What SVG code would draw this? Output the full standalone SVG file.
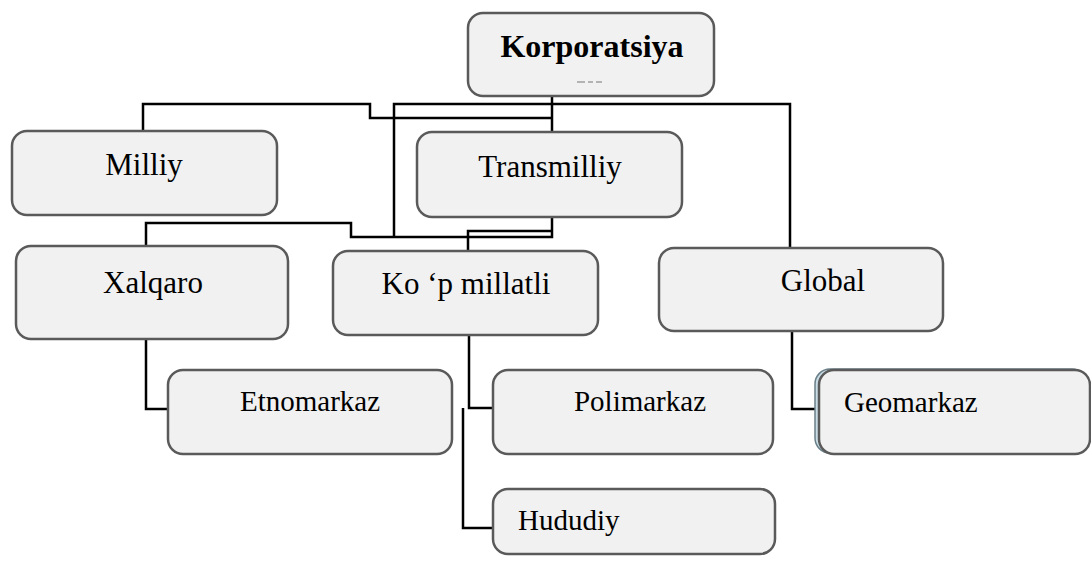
<svg xmlns="http://www.w3.org/2000/svg" width="1091" height="569" viewBox="0 0 1091 569">
  <style>
    .box { fill: #f1f1f1; stroke: #5a5a5a; stroke-width: 2.5; }
    .wire { fill: none; stroke: #000; stroke-width: 2.5; stroke-linejoin: miter; }
    .t { font-family: "Liberation Serif", "Times New Roman", serif; fill: #000; }
    .main { font-size: 31px; }
    .sub { font-size: 29px; }
    .mid { text-anchor: middle; }
  </style>
  <rect width="1091" height="569" fill="#fff"/>

  <!-- connectors -->
  <g id="connectors" class="wire">
    <path d="M552,96 V131"/>
    <path d="M143,131 V104 H370 V118 H552"/>
    <path d="M394,236 V104 H790 V248"/>
    <path d="M146,246 V223 H351 V237 H552 V217"/>
    <path d="M468,251 V231 H552"/>
    <path d="M146,339 V409 H168"/>
    <path d="M469,335 V408 H493"/>
    <path d="M463,408 V528 H493"/>
    <path d="M792,331 V409 H816"/>
  </g>

  <g id="korporatsiya">
    <rect class="box" x="468" y="13" width="246" height="83" rx="15"/>
    <text class="t mid" x="592" y="57" font-size="32" font-weight="bold">Korporatsiya</text>
    <path d="M577,82 H585 M588,82 H593 M596,82 H602" stroke="#777" stroke-width="1.2"/>
  </g>

  <g id="milliy">
    <rect class="box" x="12" y="131" width="265" height="84" rx="15"/>
    <text class="t main mid" x="144" y="175">Milliy</text>
  </g>

  <g id="transmilliy">
    <rect class="box" x="417" y="132" width="265" height="85" rx="15"/>
    <text class="t main mid" x="550" y="177">Transmilliy</text>
  </g>

  <g id="xalqaro">
    <rect class="box" x="16" y="246" width="272" height="93" rx="15"/>
    <text class="t main mid" x="153" y="293">Xalqaro</text>
  </g>

  <g id="kop-millatli">
    <rect class="box" x="333" y="251" width="265" height="84" rx="15"/>
    <text class="t main mid" x="466" y="294">Ko ‘p millatli</text>
  </g>

  <g id="global">
    <rect class="box" x="659" y="248" width="284" height="83" rx="15"/>
    <text class="t main mid" x="823" y="291">Global</text>
  </g>

  <g id="etnomarkaz">
    <rect class="box" x="168" y="370" width="284" height="84" rx="15"/>
    <text class="t sub mid" x="310" y="411">Etnomarkaz</text>
  </g>

  <g id="polimarkaz">
    <rect class="box" x="493" y="370" width="280" height="84" rx="15"/>
    <text class="t sub mid" x="640" y="411">Polimarkaz</text>
  </g>

  <g id="hududiy">
    <rect class="box" x="493" y="489" width="282" height="65" rx="15"/>
    <text class="t sub" x="518" y="530">Hududiy</text>
  </g>

  <g id="geomarkaz">
    <rect x="815" y="369" width="272" height="84" rx="15" fill="#c9dde6" stroke="#6a7f88" stroke-width="1.5"/>
    <rect class="box" x="819" y="370" width="271" height="84" rx="15"/>
    <text class="t sub" x="844" y="412">Geomarkaz</text>
  </g>
</svg>
